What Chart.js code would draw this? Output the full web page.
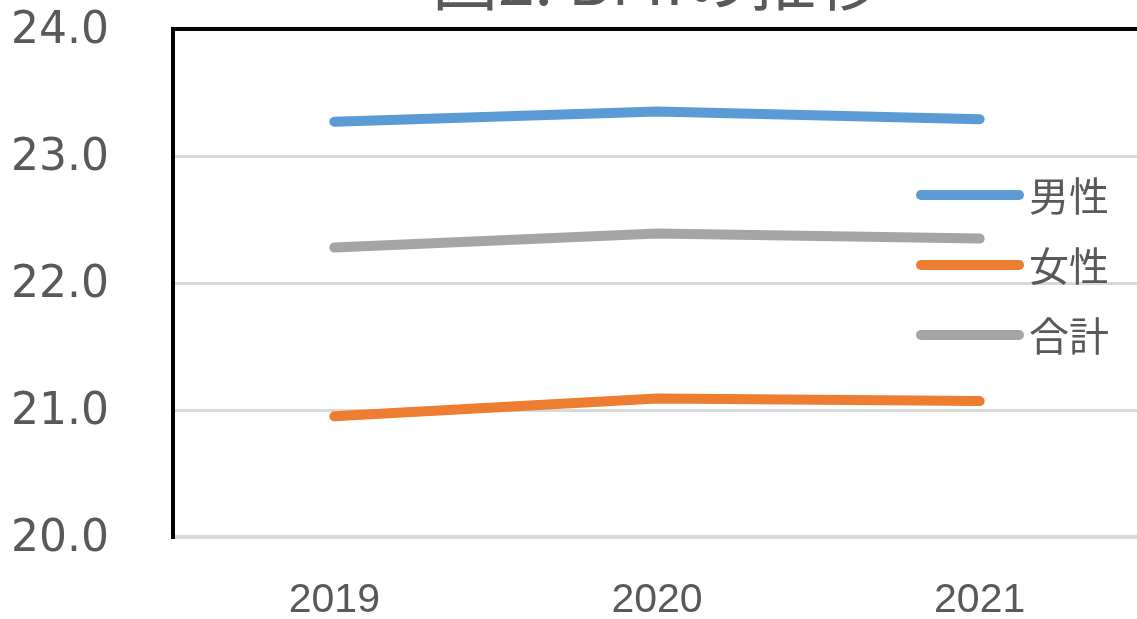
<!DOCTYPE html>
<html>
<head>
<meta charset="utf-8">
<script src="https://cdn.jsdelivr.net/npm/chart.js@4"></script>
<style>
  html, body { margin: 0; padding: 0; background: #fff; overflow: hidden; width: 1137px; height: 619px; }
  #wrap { position: absolute; left: 0; top: 0; width: 1141px; height: 619px; }
</style>
</head>
<body>
<div id="wrap"><canvas id="c" width="1141" height="619"></canvas></div>
<script>
const titleText = "図2. BMIの推移";
const categories = ["2019", "2020", "2021"];
const maleValues = [23.27, 23.35, 23.29];
const femaleValues = [20.95, 21.09, 21.07];
const totalValues = [22.28, 22.39, 22.35];
const seriesNames = ["男性", "女性", "合計"];
const seriesColors = ["#5B9BD5", "#ED7D31", "#A5A5A5"];
const yMin = 20, yMax = 24, yStep = 1;

const textColor = "#595959";

const titlePlugin = {
  id: "cutTitle",
  afterDraw(chart) {
    const ctx = chart.ctx;
    const a = chart.chartArea;
    ctx.save();
    ctx.font = '66px "Noto Sans CJK JP"';
    ctx.fillStyle = textColor;
    ctx.textAlign = "center";
    ctx.textBaseline = "alphabetic";
    ctx.fillText(titleText, (a.left + a.right) / 2, 5);
    ctx.restore();
  }
};

const legendPlugin = {
  id: "sideLegend",
  afterDatasetsDraw(chart) {
    const ctx = chart.ctx;
    const rows = [195, 265, 335];
    ctx.save();
    chart.data.datasets.forEach((ds, i) => {
      const y = rows[i];
      ctx.strokeStyle = ds.borderColor;
      ctx.lineWidth = 10;
      ctx.lineCap = "round";
      ctx.beginPath();
      ctx.moveTo(921, y);
      ctx.lineTo(1019, y);
      ctx.stroke();
      ctx.font = '40px "Noto Sans CJK JP"';
      ctx.fillStyle = textColor;
      ctx.textAlign = "left";
      ctx.textBaseline = "middle";
      ctx.fillText(ds.label, 1029, y + 1);
    });
    ctx.restore();
  }
};

new Chart(document.getElementById("c"), {
  type: "line",
  data: {
    labels: categories,
    datasets: [
      { label: seriesNames[0], data: maleValues, borderColor: seriesColors[0] },
      { label: seriesNames[1], data: femaleValues, borderColor: seriesColors[1] },
      { label: seriesNames[2], data: totalValues, borderColor: seriesColors[2] }
    ].map(d => Object.assign(d, {
      borderWidth: 10,
      borderCapStyle: "round",
      pointRadius: 0,
      pointHoverRadius: 0,
      tension: 0,
      fill: false
    }))
  },
  options: {
    responsive: false,
    animation: false,
    devicePixelRatio: 1,
    layout: { padding: { top: 29, right: 0, left: 0, bottom: 0 } },
    plugins: {
      legend: { display: false },
      title: { display: false },
      tooltip: { enabled: false }
    },
    scales: {
      x: {
        type: "category",
        offset: true,
        grid: { display: false, drawTicks: false },
        border: { display: true, color: "#D9D9D9", width: 4 },
        ticks: {
          font: { family: '"Liberation Sans"', size: 41 },
          color: textColor,
          padding: 39,
          maxRotation: 0
        },
        afterFit(scale) { scale.height = 82; scale.paddingLeft = 0; scale.paddingRight = 0; }
      },
      y: {
        min: yMin,
        max: yMax,
        grid: {
          drawTicks: false,
          color: c => c.tick.value === yMax ? "#000000" : (c.tick.value === yMin ? "rgba(0,0,0,0)" : "#D9D9D9"),
          lineWidth: c => c.tick.value === yMax ? 4 : 3
        },
        border: { display: true, color: "#000000", width: 4 },
        ticks: {
          stepSize: yStep,
          font: { family: '"DejaVu Sans"', size: 44 },
          color: textColor,
          padding: 64,
          labelOffset: 3,
          callback: v => Number(v).toFixed(1)
        },
        afterFit(scale) { scale.width = 173; scale.paddingTop = 0; scale.paddingBottom = 0; }
      }
    }
  },
  plugins: [titlePlugin, legendPlugin]
});
</script>
</body>
</html>
